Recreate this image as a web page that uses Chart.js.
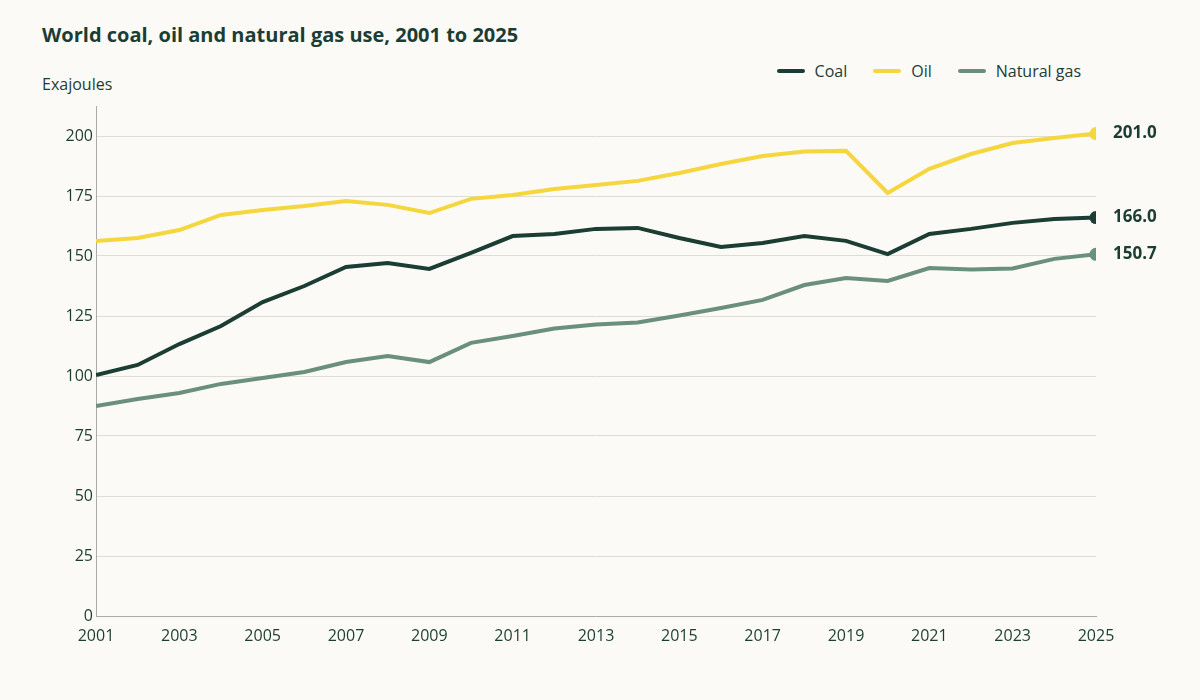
<!DOCTYPE html>
<html><head><meta charset="utf-8">
<script src="https://cdn.jsdelivr.net/npm/chart.js@4"></script>
<style>
body{margin:0;background:#fbfaf6;font-family:"Open Sans",sans-serif;color:#1b3d33}
#wrap{position:relative;width:1200px;height:700px}
#t{position:absolute;left:42px;top:21px;font-size:20px;font-weight:700;margin:0}
#u{position:absolute;left:42px;top:73px;font-size:16px}
#lg{position:absolute;right:119px;top:60px;font-size:16px;display:flex;gap:26px}
#lg span{display:flex;align-items:center}
#lg i{display:inline-block;width:28px;height:4px;border-radius:2px;margin-right:10px}
canvas{position:absolute;left:0;top:0}
</style></head><body>
<div id="wrap">
<div id="t">World coal, oil and natural gas use, 2001 to 2025</div>
<div id="u">Exajoules</div>
<div id="lg"><span><i style="background:#1b3d33"></i>Coal</span><span><i style="background:#f5d63d"></i>Oil</span><span><i style="background:#6b8f7d"></i>Natural gas</span></div>
<canvas id="c" width="1200" height="700"></canvas>
</div>
<script>
const years=[2001,2002,2003,2004,2005,2006,2007,2008,2009,2010,2011,2012,2013,2014,2015,2016,2017,2018,2019,2020,2021,2022,2023,2024,2025];
const coal=[100.4,104.6,113.3,120.8,130.8,137.5,145.4,147.1,144.6,151.3,158.3,159.2,161.3,161.7,157.5,153.8,155.4,158.3,156.3,150.8,159.2,161.3,163.8,165.4,166.0];
const oil=[156.3,157.5,160.8,167.1,169.2,170.8,172.9,171.3,167.9,173.8,175.4,177.9,179.6,181.3,184.6,188.3,191.7,193.5,193.8,176.3,186.3,192.5,197.1,199.2,201.0];
const gas=[87.5,90.4,92.9,96.7,99.2,101.7,105.8,108.3,105.8,113.8,116.7,119.8,121.5,122.3,125.2,128.3,131.7,137.9,140.8,139.6,145.0,144.4,144.8,148.8,150.7];
const names=["Coal","Oil","Natural gas"];
const colors=["#1b3d33","#f5d63d","#6b8f7d"];
const ink="#1b3d33";
const mk=(arr,i)=>({label:names[i],data:arr.map((v,k)=>({x:years[k],y:v})),borderColor:colors[i],backgroundColor:colors[i],borderWidth:4,
 pointRadius:arr.map((v,k)=>k===arr.length-1?6.5:0),pointBorderWidth:0,tension:0});
const endLabels={id:'endLabels',afterDatasetsDraw(ch){const c=ch.ctx;c.save();c.font='bold 17px "Open Sans"';c.fillStyle=ink;c.textBaseline='middle';
 ch.data.datasets.forEach((d,i)=>{const m=ch.getDatasetMeta(i).data;const p=m[m.length-1];c.fillText(d.data[d.data.length-1].y.toFixed(1),p.x+17,p.y);});c.restore();}};
new Chart(document.getElementById('c'),{type:'line',
 data:{datasets:[mk(coal,0),mk(oil,1),mk(gas,2)]},
 options:{responsive:false,animation:false,layout:{padding:{top:106,right:104,left:0,bottom:0}},
  plugins:{legend:{display:false},tooltip:{enabled:false}},
  scales:{
   x:{type:'linear',min:2001,max:2025,ticks:{stepSize:2,color:ink,font:{size:16,family:'Open Sans'},callback:v=>String(v),maxRotation:0},
      grid:{display:false},border:{color:'#aaa'},afterFit:s=>{s.height=84;}},
   y:{min:0,max:212.5,ticks:{stepSize:25,color:ink,font:{size:16,family:'Open Sans'},callback:v=>v},
      grid:{color:'#dedcd5',drawTicks:false},border:{color:'#aaa'},afterFit:s=>{s.width=96;},
      afterBuildTicks:s=>{s.ticks=[0,25,50,75,100,125,150,175,200].map(v=>({value:v}));}}
  }},plugins:[endLabels]});
</script></body></html>
